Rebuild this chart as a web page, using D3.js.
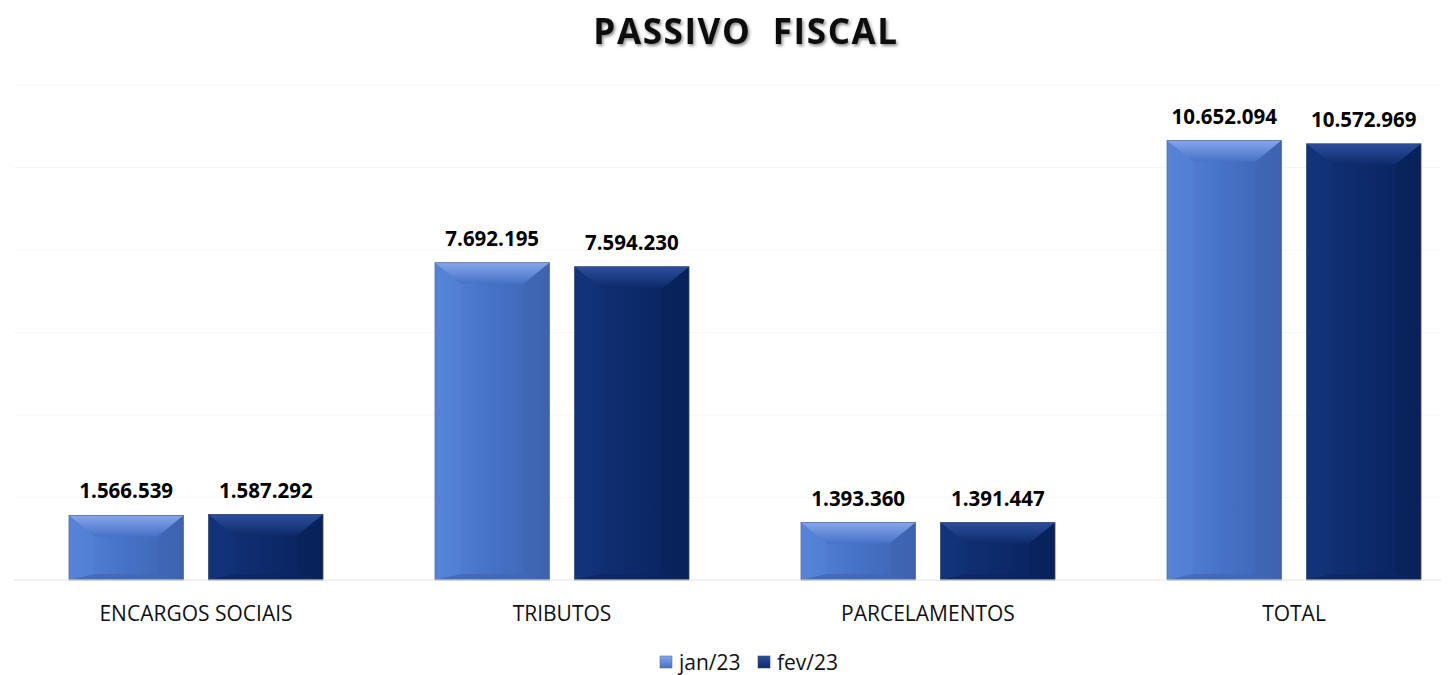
<!DOCTYPE html>
<html>
<head>
<meta charset="utf-8">
<script src="https://cdn.jsdelivr.net/npm/d3@7"></script>
<style>
  body { margin: 0; background: #ffffff; }
  svg { display: block; }
</style>
</head>
<body>
<div id="chart"></div>
<script>
// Data
const categories = ["ENCARGOS SOCIAIS", "TRIBUTOS", "PARCELAMENTOS", "TOTAL"];
const seriesNames = ["jan/23", "fev/23"];
const jan23 = [1566539, 7692195, 1393360, 10652094];
const fev23 = [1587292, 7594230, 1391447, 10572969];
const yTicks = [0, 2000000, 4000000, 6000000, 8000000, 10000000, 12000000];

let width = 1455, height = 675;
let margin = { top: 85, bottom: 95, left: 13, right: -22 };

let svg = d3.select('#chart')
  .append('svg')
  .attr('width', width)
  .attr('height', height);

// bar colours per series: main, top bevel, left, right, bottom
const palette = [
  { main: "#4672c6", top: "#86a6ec", left: "#5684d8", right: "#3d63b0", bottom: "#4068b8", edge: "#5b6f9c" },
  { main: "#0d2a6b", top: "#2c4f9c", left: "#12347a", right: "#08215a", bottom: "#0b2763", edge: "#3a4a72" }
];

let defs = svg.append('defs');
let shadow = defs.append('filter').attr('id', 'tshadow')
  .attr('x', '-10%').attr('y', '-30%').attr('width', '120%').attr('height', '160%');
shadow.append('feDropShadow')
  .attr('dx', 1.5).attr('dy', 2).attr('stdDeviation', 1.6)
  .attr('flood-color', '#000').attr('flood-opacity', 0.45);

palette.forEach((p, i) => {
  let g = defs.append('linearGradient').attr('id', 'topg' + i)
    .attr('x1', 0).attr('y1', 0).attr('x2', 0).attr('y2', 1);
  g.append('stop').attr('offset', '0%').attr('stop-color', p.top);
  g.append('stop').attr('offset', '100%').attr('stop-color', p.main);
  let m = defs.append('linearGradient').attr('id', 'maing' + i)
    .attr('x1', 0).attr('y1', 0).attr('x2', 1).attr('y2', 0);
  m.append('stop').attr('offset', '0%').attr('stop-color', p.left);
  m.append('stop').attr('offset', '50%').attr('stop-color', p.main);
  m.append('stop').attr('offset', '100%').attr('stop-color', p.right);
});

// scales
let x0 = d3.scaleBand()
  .domain(categories)
  .range([margin.left, width - margin.right]);

let x1 = d3.scaleBand()
  .domain(seriesNames)
  .range([x0.bandwidth() * 0.153, x0.bandwidth() * 0.847])
  .paddingInner(0.18);

let y = d3.scaleLinear()
  .domain([0, 12000000])
  .range([height - margin.bottom, margin.top]);

// faint gridlines
svg.append('g')
  .selectAll('line')
  .data(yTicks.slice(1))
  .enter()
  .append('line')
  .attr('x1', 14).attr('x2', 1441)
  .attr('y1', d => y(d)).attr('y2', d => y(d))
  .attr('stroke', '#f6f6f6')
  .attr('stroke-width', 1);

// title
svg.append('text')
  .text('PASSIVO  FISCAL')
  .attr('x', 746)
  .attr('y', 44)
  .attr('text-anchor', 'middle')
  .style('font-family', '"Open Sans", sans-serif')
  .style('font-weight', 'bold')
  .style('font-size', '35px')
  .style('letter-spacing', '1.6px')
  .style('white-space', 'pre')
  .attr('fill', '#111')
  .attr('filter', 'url(#tshadow)');

// flatten data
const data = [];
categories.forEach((c, ci) => {
  data.push({ cat: c, series: 0, value: jan23[ci] });
  data.push({ cat: c, series: 1, value: fev23[ci] });
});

const fmt = v => d3.format(',')(v).replace(/,/g, '.');

const bars = svg.selectAll('.bar')
  .data(data)
  .enter()
  .append('g')
  .attr('class', 'bar');

bars.each(function(d) {
  const g = d3.select(this);
  const p = palette[d.series];
  const bx = x0(d.cat) + x1(seriesNames[d.series]);
  const bw = x1.bandwidth();
  const by = y(d.value);
  const bh = y(0) - by;
  const b = 26, bt = 21, bb = 6;

  g.append('rect')
    .attr('x', bx).attr('y', by).attr('width', bw).attr('height', bh)
    .attr('fill', 'url(#maing' + d.series + ')');
  // left bevel
  g.append('polygon')
    .attr('points', [[bx, by], [bx + b, by + bt], [bx + b, by + bh - bb], [bx, by + bh]].join(' '))
    .attr('fill', p.left).attr('opacity', 0.4);
  // right bevel
  g.append('polygon')
    .attr('points', [[bx + bw, by], [bx + bw - b, by + bt], [bx + bw - b, by + bh - bb], [bx + bw, by + bh]].join(' '))
    .attr('fill', p.right).attr('opacity', 0.5);
  // bottom bevel
  g.append('polygon')
    .attr('points', [[bx, by + bh], [bx + b, by + bh - bb], [bx + bw - b, by + bh - bb], [bx + bw, by + bh]].join(' '))
    .attr('fill', p.bottom).attr('opacity', 0.8);
  // top bevel
  g.append('polygon')
    .attr('points', [[bx, by], [bx + bw, by], [bx + bw - b, by + bt], [bx + b, by + bt]].join(' '))
    .attr('fill', 'url(#topg' + d.series + ')');
  // outline
  g.append('rect')
    .attr('x', bx).attr('y', by).attr('width', bw).attr('height', bh)
    .attr('fill', 'none')
    .attr('stroke', p.edge).attr('stroke-width', 0.8);

  // value label
  g.append('text')
    .text(fmt(d.value))
    .attr('x', bx + bw / 2)
    .attr('y', by - 17)
    .attr('text-anchor', 'middle')
    .style('font-family', '"Open Sans", sans-serif')
    .style('font-weight', 'bold')
    .style('font-size', '20.5px')
    .attr('fill', '#000');
});

// baseline
svg.append('line')
  .attr('x1', 14).attr('x2', 1441)
  .attr('y1', y(0)).attr('y2', y(0))
  .attr('stroke', '#e3e3e3')
  .attr('stroke-width', 1);

// category labels
svg.append('g')
  .selectAll('text')
  .data(categories)
  .enter()
  .append('text')
  .text(d => d)
  .attr('x', d => x0(d) + x0.bandwidth() / 2)
  .attr('y', 621)
  .attr('text-anchor', 'middle')
  .style('font-family', '"Open Sans", sans-serif')
  .style('font-size', '21px')
  .attr('fill', '#111');

// legend
const legendX = [660, 758];
seriesNames.forEach((s, i) => {
  const p = palette[i];
  svg.append('rect')
    .attr('x', legendX[i]).attr('y', 656)
    .attr('width', 12).attr('height', 12)
    .attr('fill', 'url(#topg' + i + ')')
    .attr('stroke', p.edge).attr('stroke-width', 0.6);
  svg.append('text')
    .text(s)
    .attr('x', legendX[i] + 19)
    .attr('y', 670)
    .style('font-family', '"Open Sans", sans-serif')
    .style('font-size', '21px')
    .attr('fill', '#111');
});
</script>
</body>
</html>
